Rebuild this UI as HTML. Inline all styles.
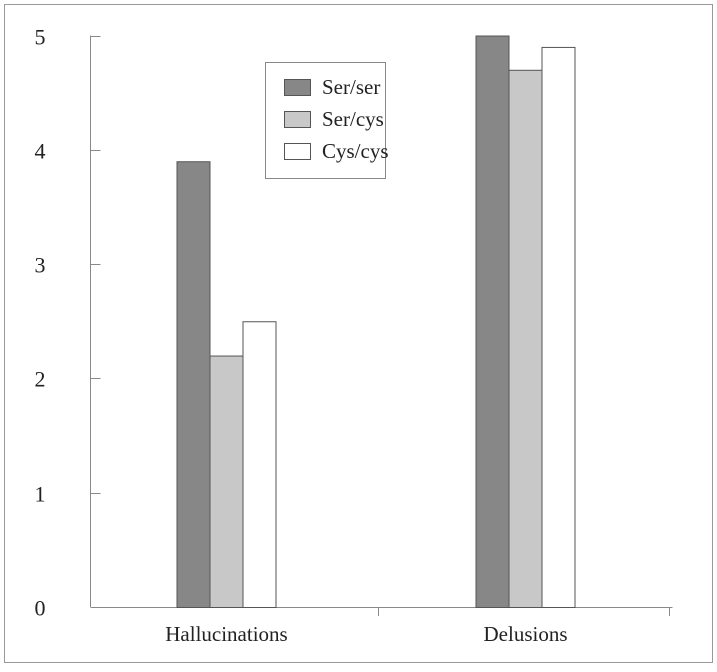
<!DOCTYPE html>
<html><head><meta charset="utf-8"><style>
html,body{margin:0;padding:0;background:#fff;}
svg text{font-family:"Liberation Serif",serif;fill:#222;}
</style></head><body>
<svg id="chart" width="717" height="667" xmlns="http://www.w3.org/2000/svg">
<rect x="4.5" y="4.5" width="708" height="658" fill="none" stroke="#999" stroke-width="1"/>
<g id="axes"></g>
<g id="bars"></g>
<g>
<rect x="265.5" y="62.5" width="120" height="116" fill="#fff" stroke="#888"/>
<g id="legend"></g>
</g>
</svg>
<script>
const categories=["Hallucinations","Delusions"];
const seriesNames=["Ser/ser","Ser/cys","Cys/cys"];
const serSer=[3.9,5.0];
const serCys=[2.2,4.7];
const cysCys=[2.5,4.9];
const yTicks=[0,1,2,3,4,5];
const series=[serSer,serCys,cysCys];
const colors=["#878787","#c8c8c8","#ffffff"];
const NS="http://www.w3.org/2000/svg";
const y0=607,yTop=35.5,yMax=5;
const y=v=>y0-(y0-yTop)*v/yMax;
const xL=90.5,xR=672.5,bw=33;
const groupW=(xR-xL)/categories.length;
const xc=i=>226.5+299*i;
function mk(tag,attrs,parent){const e=document.createElementNS(NS,tag);for(const k in attrs)e.setAttribute(k,attrs[k]);parent.appendChild(e);return e;}
const ax=document.getElementById('axes');
let l=mk('line',{x1:xL,y1:yTop,x2:xL,y2:y0,stroke:"#888"},ax);


l=mk('line',{x1:xL,y1:y0+0.5,x2:xR,y2:y0+0.5,stroke:"#888"},ax);


yTicks.forEach(t=>{
 const yy=Math.round(y(t))+0.5;
 const tk=mk('line',{x1:xL,y1:yy,x2:xL+10,y2:yy,stroke:"#888"},ax);
 
 
 const tx=mk('text',{x:40,y:yy+8,'font-size':22,'text-anchor':'middle'},ax);
 tx.textContent=t;
 
 
});
[1,2].forEach(i=>{
 const xx=xL+groupW*i-3;
 const tk=mk('line',{x1:xx,y1:y0,x2:xx,y2:y0+9,stroke:"#888"},ax);
 
 
});
categories.forEach((c,i)=>{
 const tx=mk('text',{x:xc(i),y:641,'font-size':21,'text-anchor':'middle'},ax);
 tx.textContent=c;
 
 
});
const bg=document.getElementById('bars');
categories.forEach((c,i)=>{
 series.forEach((s,j)=>{
  const x=xc(i)-1.5*bw+j*bw;
  const r=mk('rect',{x:x,y:y(s[i])+0.5,width:bw,height:y0-y(s[i]),fill:colors[j],stroke:"#555","stroke-width":1},bg);
  
  
 });
});
const lg=document.getElementById('legend');
seriesNames.forEach((n,j)=>{
 const yy=79+j*32;
 const r=mk('rect',{x:284.5,y:yy+0.5,width:26,height:16,fill:colors[j],stroke:"#555"},lg);
 
 
 const t=mk('text',{x:322,y:yy+15,'font-size':21},lg);
 t.textContent=n;
 
 
});
</script>
</body></html>
